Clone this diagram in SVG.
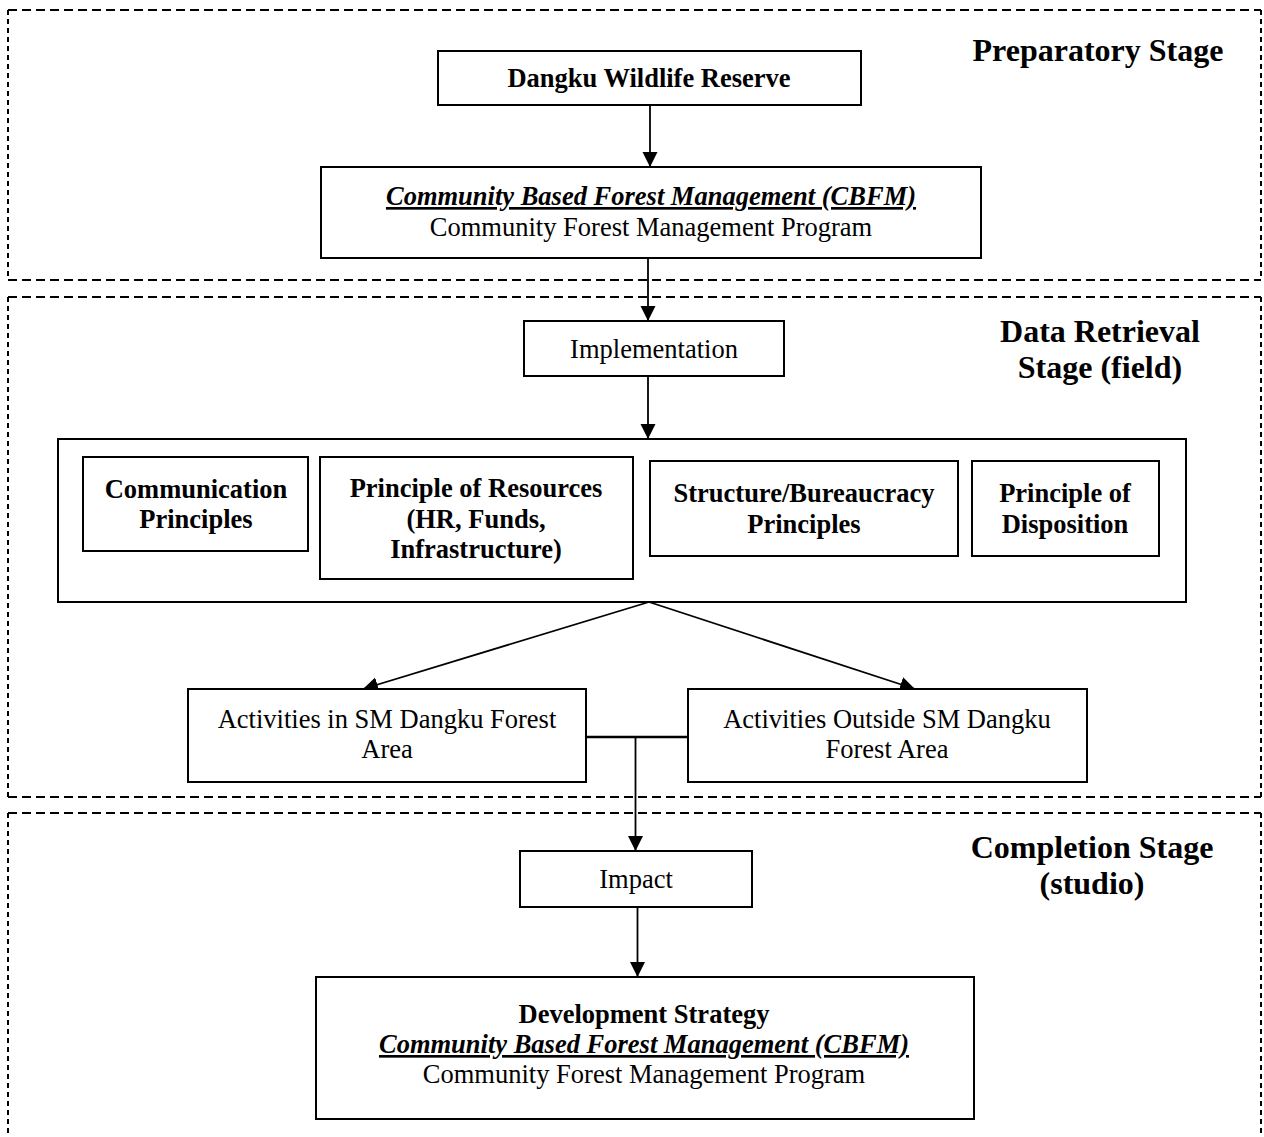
<svg xmlns="http://www.w3.org/2000/svg" width="1264" height="1137" viewBox="0 0 1264 1137">
<defs>
<style>
.stage-h{stroke:#000;stroke-width:2;stroke-dasharray:9 5;fill:none}
.stage-v{stroke:#000;stroke-width:2;stroke-dasharray:5 4;fill:none}
.box{fill:#fff;stroke:#000;stroke-width:2}
.t{font-family:"Liberation Serif","Times New Roman",serif;font-size:26.5px;fill:#000;text-anchor:middle}
.b{font-weight:bold}
.bi{font-weight:bold;font-style:italic;text-decoration:underline}
.lab{font-family:"Liberation Serif","Times New Roman",serif;font-size:32px;font-weight:bold;fill:#000;text-anchor:middle}
.con{stroke:#000;stroke-width:1.8;fill:none}
</style>
<marker id="arr" markerUnits="userSpaceOnUse" markerWidth="16" markerHeight="16" refX="15" refY="7.5" orient="auto">
<path d="M0,0 L15,7.5 L0,15 Z" fill="#000"/>
</marker>
</defs>
<rect width="1264" height="1137" fill="#fff"/>

<g id="stage-preparatory">
<line class="stage-h" x1="8" y1="10" x2="1261" y2="10"/>
<line class="stage-h" x1="8" y1="280" x2="1261" y2="280"/>
<line class="stage-v" x1="8" y1="10" x2="8" y2="280"/>
<line class="stage-v" x1="1261" y1="10" x2="1261" y2="280"/>
<text class="lab" x="1098" y="61">Preparatory Stage</text>
</g>
<g id="stage-data">
<line class="stage-h" x1="8" y1="297" x2="1261" y2="297"/>
<line class="stage-h" x1="8" y1="797" x2="1261" y2="797"/>
<line class="stage-v" x1="8" y1="297" x2="8" y2="797"/>
<line class="stage-v" x1="1261" y1="297" x2="1261" y2="797"/>
<text class="lab" x="1100" y="342">Data Retrieval</text>
<text class="lab" x="1100" y="378">Stage (field)</text>
</g>
<g id="stage-completion">
<line class="stage-h" x1="8" y1="813" x2="1261" y2="813"/>
<line class="stage-v" x1="8" y1="813" x2="8" y2="1137"/>
<line class="stage-v" x1="1261" y1="813" x2="1261" y2="1137"/>
<text class="lab" x="1092" y="858">Completion Stage</text>
<text class="lab" x="1092" y="894">(studio)</text>
</g>

<g id="connectors">
<line class="con" x1="650" y1="105" x2="650" y2="167" marker-end="url(#arr)"/>
<line class="con" x1="648" y1="258" x2="648" y2="321" marker-end="url(#arr)"/>
<line class="con" x1="648" y1="376" x2="648" y2="439" marker-end="url(#arr)"/>
<line class="con" x1="649" y1="602" x2="363" y2="689" marker-end="url(#arr)"/>
<line class="con" x1="649" y1="602" x2="915" y2="689" marker-end="url(#arr)"/>
<line x1="587" y1="737" x2="688" y2="737" stroke="#000" stroke-width="2.5"/>
<line class="con" x1="635.5" y1="737" x2="635.5" y2="851" marker-end="url(#arr)"/>
<line class="con" x1="637.5" y1="907" x2="637.5" y2="977" marker-end="url(#arr)"/>
</g>

<g id="node-dangku">
<rect class="box" x="438" y="51" width="423" height="54"/>
<text class="t b" x="649" y="87">Dangku Wildlife Reserve</text>
</g>
<g id="node-cbfm">
<rect class="box" x="321" y="167" width="660" height="91"/>
<text class="t bi" x="651" y="205">Community Based Forest Management (CBFM)</text>
<text class="t" x="651" y="236">Community Forest Management Program</text>
</g>
<g id="node-implementation">
<rect class="box" x="524" y="321" width="260" height="55"/>
<text class="t" x="654" y="358">Implementation</text>
</g>
<g id="node-principles">
<rect class="box" x="58" y="439" width="1128" height="163"/>
</g>
<g id="node-communication">
<rect class="box" x="83" y="457" width="225" height="94"/>
<text class="t b" x="196" y="498">Communication</text>
<text class="t b" x="196" y="528">Principles</text>
</g>
<g id="node-resources">
<rect class="box" x="320" y="457" width="313" height="122"/>
<text class="t b" x="476" y="497">Principle of Resources</text>
<text class="t b" x="476" y="528">(HR, Funds,</text>
<text class="t b" x="476" y="558">Infrastructure)</text>
</g>
<g id="node-structure">
<rect class="box" x="650" y="461" width="308" height="95"/>
<text class="t b" x="804" y="502">Structure/Bureaucracy</text>
<text class="t b" x="804" y="533">Principles</text>
</g>
<g id="node-disposition">
<rect class="box" x="972" y="461" width="187" height="95"/>
<text class="t b" x="1065" y="502">Principle of</text>
<text class="t b" x="1065" y="533">Disposition</text>
</g>
<g id="node-activities-in">
<rect class="box" x="188" y="689" width="398" height="93"/>
<text class="t" x="387" y="728">Activities in SM Dangku Forest</text>
<text class="t" x="387" y="758">Area</text>
</g>
<g id="node-activities-out">
<rect class="box" x="688" y="689" width="399" height="93"/>
<text class="t" x="887" y="728">Activities Outside SM Dangku</text>
<text class="t" x="887" y="758">Forest Area</text>
</g>
<g id="node-impact">
<rect class="box" x="520" y="851" width="232" height="56"/>
<text class="t" x="636" y="888">Impact</text>
</g>
<g id="node-strategy">
<rect class="box" x="316" y="977" width="658" height="142"/>
<text class="t b" x="644" y="1023">Development Strategy</text>
<text class="t bi" x="644" y="1053">Community Based Forest Management (CBFM)</text>
<text class="t" x="644" y="1083">Community Forest Management Program</text>
</g>
</svg>
